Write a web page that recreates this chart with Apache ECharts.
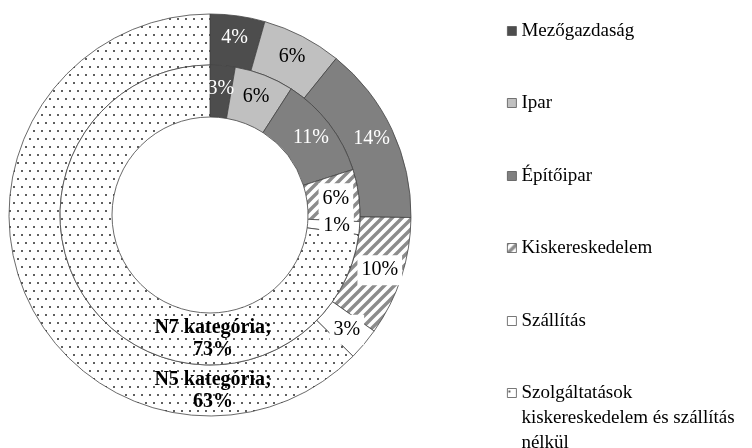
<!DOCTYPE html>
<html>
<head>
<meta charset="utf-8">
<script src="https://cdn.jsdelivr.net/npm/echarts@6/dist/echarts.min.js"></script>
<style>
html, body { margin: 0; padding: 0; background: #fff; }
#main { width: 752px; height: 448px; }
</style>
</head>
<body>
<div id="main"></div>
<script>
// ágazatok
const categories = ['Mezőgazdaság', 'Ipar', 'Építőipar', 'Kiskereskedelem', 'Szállítás', 'Szolgáltatások kiskereskedelem és szállítás nélkül'];
const legendNames = ['Mezőgazdaság', 'Ipar', 'Építőipar', 'Kiskereskedelem', 'Szállítás', 'Szolgáltatások\nkiskereskedelem és szállítás\nnélkül'];
// külső gyűrű (N5), belső gyűrű (N7), százalék
const n5Values = [4.4, 6.4, 14.4, 9.6, 2.6, 62.6];
const n7Values = [2.7, 6.4, 11.0, 5.6, 1.4, 72.9];

const FONT = '"Liberation Serif", "Times New Roman", serif';

// mintázatok (csíkos, pöttyös)
const makeStripes = () => {
  const c = document.createElement('canvas');
  c.width = 10; c.height = 10;
  const ctx = c.getContext('2d');
  ctx.fillStyle = '#fff';
  ctx.fillRect(0, 0, 10, 10);
  ctx.strokeStyle = '#8c8c8c';
  ctx.lineWidth = 3.4;
  ctx.beginPath();
  ctx.moveTo(-2, 12); ctx.lineTo(12, -2);
  ctx.moveTo(-7, 7); ctx.lineTo(7, -7);
  ctx.moveTo(3, 17); ctx.lineTo(17, 3);
  ctx.stroke();
  return c;
};
const makeDots = () => {
  const c = document.createElement('canvas');
  c.width = 8; c.height = 16;
  const ctx = c.getContext('2d');
  ctx.fillStyle = '#fff';
  ctx.fillRect(0, 0, 8, 16);
  ctx.fillStyle = '#2a2a2a';
  [[2, 3], [6, 11]].forEach(([x, y]) => {
    ctx.beginPath();
    ctx.arc(x, y, 1.0, 0, Math.PI * 2);
    ctx.fill();
  });
  return c;
};

const fills = [
  '#4d4d4d',
  '#c0c0c0',
  '#808080',
  { image: makeStripes(), repeat: 'repeat' },
  '#ffffff',
  { image: makeDots(), repeat: 'repeat' }
];
const labelColors = ['#fff', '#000', '#fff', '#000', '#000', '#000'];

const cx = 210, cy = 215;

const pieSeries = (name, values, radius) => ({
  name: name,
  type: 'pie',
  center: [cx, cy],
  radius: radius,
  startAngle: 90,
  clockwise: true,
  silent: true,
  avoidLabelOverlap: false,
  itemStyle: { borderColor: '#444', borderWidth: 0.8 },
  label: {
    show: true,
    position: 'inside',
    fontFamily: FONT,
    fontSize: 20,
    formatter: p => p.dataIndex === 5
      ? p.seriesName + ';\n' + Math.round(p.value) + '%'
      : Math.round(p.value) + '%'
  },
  labelLine: { show: false },
  labelLayout: p => p.dataIndex === 5
    ? { x: cx + 3, y: cy + (radius[0] + radius[1]) / 2, align: 'center', verticalAlign: 'middle' }
    : {},
  data: values.map((v, i) => ({
    name: categories[i],
    value: v,
    itemStyle: { color: fills[i] },
    label: i === 5
      ? { color: '#000', fontWeight: 'bold', fontSize: 20, lineHeight: 22 }
      : (i === 3 || i === 4)
        ? { color: '#000', backgroundColor: '#fff', padding: [6, 4, 4, 4] }
        : { color: labelColors[i] }
  }))
});

const legendCenters = [31, 103, 176, 248, 321, 393];
const legends = categories.map((name, i) => ({
  data: [name],
  orient: 'vertical',
  left: 507,
  top: legendCenters[i] - (i === 5 ? 62.5 : 12.5),
  padding: 0,
  icon: 'rect',
  itemWidth: 9,
  itemHeight: 9,
  selectedMode: false,
  itemStyle: { borderColor: '#555', borderWidth: 0.8 },
  textStyle: { fontFamily: FONT, fontSize: 19, lineHeight: 25, color: '#000' },
  formatter: () => i === 5 ? '\n\n' + legendNames[i] : legendNames[i]
}));

const chart = echarts.init(document.getElementById('main'));
chart.setOption({
  animation: false,
  backgroundColor: '#fff',
  legend: legends,
  series: [
    pieSeries('N5 kategória', n5Values, [150, 201]),
    pieSeries('N7 kategória', n7Values, [98, 150])
  ]
});
</script>
</body>
</html>
